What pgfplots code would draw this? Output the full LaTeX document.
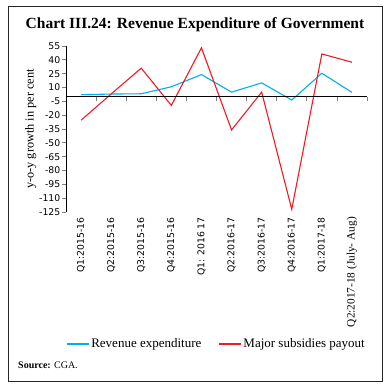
\documentclass[border=0pt]{standalone}
\usepackage{fontspec}
\setmainfont{Liberation Serif}
\newfontfamily\tickfamily{DejaVu Sans}
\usepackage{pgfplots}
\pgfplotsset{compat=1.18}
\definecolor{revblue}{RGB}{0,174,239}
\definecolor{subred}{RGB}{237,28,36}
\newcommand{\tickfont}{\tickfamily\fontsize{9.3}{11}\selectfont}
\begin{document}
\begin{tikzpicture}[x=1pt,y=1pt]
\path (0,0) rectangle (390,-389);
\draw[line width=1pt, black!85] (8,-6) rectangle (382,-381);
\node[font=\bfseries\fontsize{15.5}{18}\selectfont] at (195,-25) {Chart III.24: Revenue Expenditure of Government};
\node[anchor=west, font=\fontsize{10}{12}\selectfont, inner sep=0pt] at (18,-365) {\textbf{Source:} CGA.};
\begin{axis}[
  at={(66pt,-212pt)}, anchor=south west,
  width=301pt, height=166pt, scale only axis,
  xmin=-0.5, xmax=9.5, ymin=-125, ymax=55,
  axis y line*=left, axis x line*=bottom,
  x axis line style={draw=none},
  y axis line style={-, line width=0.7pt},
  xtick={0,...,9},
  xtick style={draw=none},
  xticklabels={Q1:2015-16,Q2:2015-16,Q3:2015-16,Q4:2015-16,Q1: 2016 17,Q2:2016-17,Q3:2016-17,Q4:2016-17,Q1:2017-18,{\rmfamily\fontsize{11.3}{13}\selectfont Q2:2017-18 (July- Aug)}},
  xticklabel style={rotate=90, anchor=east, font=\tickfont, inner sep=1pt},
  ytick={-125,-110,...,55},
  yticklabels={-125,-110,-95,-80,-65,-50,-35,-20,-5,10,25,40,55},
  yticklabel style={font=\tickfont, inner sep=1.5pt},
  ytick style={line width=0.7pt},
  tick align=outside, major tick length=4pt,
  ylabel={y-o-y growth in per cent},
  ylabel style={font=\fontsize{12.3}{14}\selectfont, yshift=-2pt},
  clip=false,
  legend columns=2,
  legend style={draw=none, at={(0.5,-0.795)}, anchor=center, font=\fontsize{13}{15}\selectfont,
    /tikz/every even column/.append style={column sep=15pt}},
  legend image code/.code={\draw[#1] (0pt,0pt) -- (22pt,0pt);},
]
\addplot[revblue, line width=1.1pt] coordinates {(0,2.2) (1,2.9) (2,3.2) (3,10.8) (4,24) (5,5) (6,15) (7,-3.6) (8,25.5) (9,4.7)};
\addlegendentry{Revenue expenditure}
\addplot[subred, line width=1.1pt] coordinates {(0,-25.5) (1,3) (2,31) (3,-9.4) (4,53) (5,-36) (6,5) (7,-122) (8,46.4) (9,37.4)};
\addlegendentry{Major subsidies payout}
\end{axis}
\begin{axis}[
  at={(66pt,-212pt)}, anchor=south west,
  width=301pt, height=166pt, scale only axis,
  xmin=-0.5, xmax=9.5, ymin=-125, ymax=55,
  axis x line=middle, axis y line=none,
  x axis line style={-, line width=0.7pt},
  xtick={0.5,1.5,...,9.5}, xticklabels={},
  ytick=\empty,
  xtick style={line width=0.7pt},
  tick align=outside, major tick length=4.5pt,
]
\end{axis}
\end{tikzpicture}
\end{document}
